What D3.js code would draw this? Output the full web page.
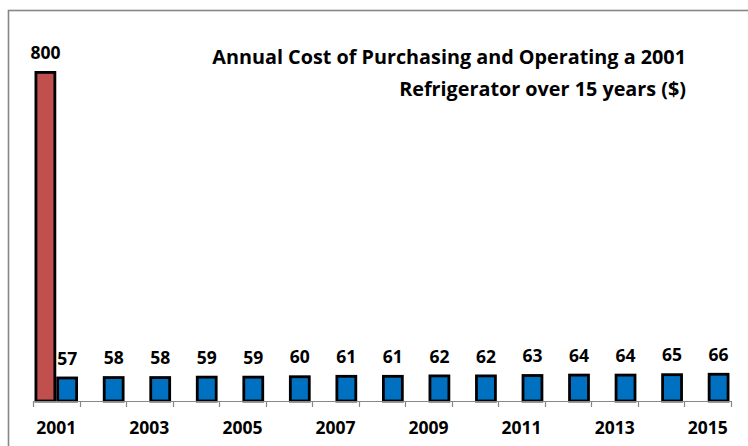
<!DOCTYPE html>
<html>
<head>
<meta charset="utf-8">
<script src="https://cdn.jsdelivr.net/npm/d3@7"></script>
<style>
  body { margin: 0; background: #fff; }
  svg { display: block; }
  text { font-family: "Open Sans", "Liberation Sans", sans-serif; font-weight: bold; fill: #000; }
</style>
</head>
<body>
<svg id="canvas" width="748" height="446"></svg>
<script>
"use strict"

const years = ["2001","2002","2003","2004","2005","2006","2007","2008","2009","2010","2011","2012","2013","2014","2015"]
const purchase = [800, 0, 0, 0, 0, 0, 0, 0, 0, 0, 0, 0, 0, 0, 0]
const operating = [57, 58, 58, 59, 59, 60, 61, 61, 62, 62, 63, 64, 64, 65, 66]
const series = ["purchase", "operating"]
const colors = { purchase: "#C0504D", operating: "#0070C0" }
const titleLines = ["Annual Cost of Purchasing and Operating a 2001", "Refrigerator over 15 years ($)"]
const shownYears = ["2001","2003","2005","2007","2009","2011","2013","2015"]

const svg = d3.select("#canvas")

// outer frame (runs off the right / bottom edge)
svg.append("rect")
  .attr("x", 8.5).attr("y", 10.5)
  .attr("width", 900).attr("height", 600)
  .attr("fill", "none")
  .attr("stroke", "#868686")
  .attr("stroke-width", 1.6)

const x = d3.scaleBand().domain(years).range([33, 731]).padding(0)
const xs = d3.scaleBand().domain(series).range([0, x.bandwidth()]).paddingOuter(0.07)
const y = d3.scaleLinear().domain([0, 800]).range([401, 72])

const rows = years.map((yr, i) => ({ year: yr, purchase: purchase[i], operating: operating[i] }))

const g = svg.append("g")

rows.forEach(r => {
  series.forEach(s => {
    const v = r[s]
    if (!v) return
    g.append("rect")
      .attr("x", x(r.year) + xs(s) + 1.4)
      .attr("y", y(v) + 0.4)
      .attr("width", xs.bandwidth() - 2.8)
      .attr("height", y(0) - y(v) - 0.4)
      .attr("fill", colors[s])
      .attr("stroke", "#000")
      .attr("stroke-width", 2.8)
    g.append("text")
      .attr("x", x(r.year) + xs(s) + xs.bandwidth() / 2)
      .attr("y", y(v) - 13)
      .attr("text-anchor", "middle")
      .attr("font-size", 17.5)
      .text(v)
  })
})

// x axis
const axis = svg.append("g")
axis.append("line")
  .attr("x1", 33).attr("x2", 731)
  .attr("y1", 401.5).attr("y2", 401.5)
  .attr("stroke", "#878787").attr("stroke-width", 1.2)
years.concat(["end"]).forEach((yr, i) => {
  const tx = Math.round(33 + i * x.bandwidth()) + 0.5
  axis.append("line")
    .attr("x1", tx).attr("x2", tx)
    .attr("y1", 401).attr("y2", 407)
    .attr("stroke", "#878787").attr("stroke-width", 1.2)
})
shownYears.forEach(yr => {
  axis.append("text")
    .attr("x", x(yr) + x.bandwidth() / 2)
    .attr("y", 434)
    .attr("text-anchor", "middle")
    .attr("font-size", 17.5)
    .text(yr)
})

// title
svg.append("g").selectAll("text")
  .data(titleLines)
  .enter().append("text")
    .attr("x", 686)
    .attr("y", (d, i) => 64 + i * 32)
    .attr("text-anchor", "end")
    .attr("font-size", 19.8)
    .text(d => d)
</script>
</body>
</html>
